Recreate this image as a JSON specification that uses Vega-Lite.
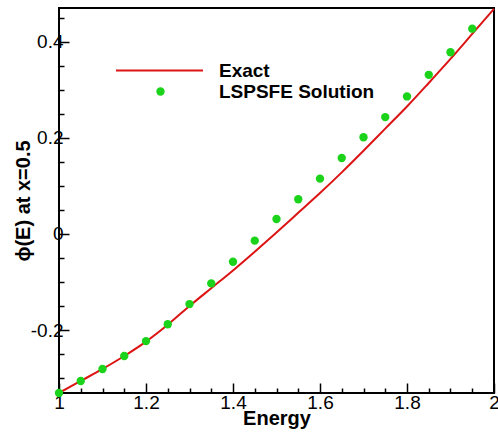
{
  "$schema": "https://vega.github.io/schema/vega-lite/v6.json",
  "width": 435,
  "height": 385,
  "autosize": "none",
  "padding": {"left": 59, "top": 8, "right": 4, "bottom": 43},
  "background": "white",
  "config": {
    "view": {"stroke": "black", "strokeWidth": 2},
    "font": "Liberation Sans",
    "axis": {
      "domain": false,
      "grid": false,
      "tickColor": "black",
      "tickWidth": 1.5,
      "labelFont": "Liberation Sans",
      "labelFontSize": 19,
      "labelColor": "black",
      "labelFlush": false,
      "labelOverlap": false,
      "labelBound": false,
      "titleFont": "Liberation Sans",
      "titleFontSize": 20,
      "titleFontWeight": "bold",
      "titleColor": "black"
    },
    "legend": {
      "labelFont": "Liberation Sans",
      "labelFontSize": 19,
      "labelFontWeight": "bold",
      "labelColor": "black",
      "padding": 0
    }
  },
  "resolve": {"axis": {"x": "independent", "y": "independent"}},
  "datasets": {
    "exact": [
      {"E": 1.00, "phi": -0.331, "series": "Exact"},
      {"E": 1.05, "phi": -0.306, "series": "Exact"},
      {"E": 1.10, "phi": -0.281, "series": "Exact"},
      {"E": 1.15, "phi": -0.254, "series": "Exact"},
      {"E": 1.20, "phi": -0.224, "series": "Exact"},
      {"E": 1.25, "phi": -0.189, "series": "Exact"},
      {"E": 1.30, "phi": -0.150, "series": "Exact"},
      {"E": 1.35, "phi": -0.113, "series": "Exact"},
      {"E": 1.40, "phi": -0.076, "series": "Exact"},
      {"E": 1.45, "phi": -0.037, "series": "Exact"},
      {"E": 1.50, "phi": 0.003, "series": "Exact"},
      {"E": 1.55, "phi": 0.044, "series": "Exact"},
      {"E": 1.60, "phi": 0.085, "series": "Exact"},
      {"E": 1.65, "phi": 0.128, "series": "Exact"},
      {"E": 1.70, "phi": 0.173, "series": "Exact"},
      {"E": 1.75, "phi": 0.219, "series": "Exact"},
      {"E": 1.80, "phi": 0.265, "series": "Exact"},
      {"E": 1.85, "phi": 0.314, "series": "Exact"},
      {"E": 1.90, "phi": 0.364, "series": "Exact"},
      {"E": 1.95, "phi": 0.416, "series": "Exact"},
      {"E": 2.00, "phi": 0.468, "series": "Exact"}
    ],
    "lspsfe": [
      {"E": 1.00, "phi": -0.331, "series": "LSPSFE Solution"},
      {"E": 1.05, "phi": -0.306, "series": "LSPSFE Solution"},
      {"E": 1.10, "phi": -0.281, "series": "LSPSFE Solution"},
      {"E": 1.15, "phi": -0.254, "series": "LSPSFE Solution"},
      {"E": 1.20, "phi": -0.223, "series": "LSPSFE Solution"},
      {"E": 1.25, "phi": -0.188, "series": "LSPSFE Solution"},
      {"E": 1.30, "phi": -0.146, "series": "LSPSFE Solution"},
      {"E": 1.35, "phi": -0.103, "series": "LSPSFE Solution"},
      {"E": 1.40, "phi": -0.058, "series": "LSPSFE Solution"},
      {"E": 1.45, "phi": -0.014, "series": "LSPSFE Solution"},
      {"E": 1.50, "phi": 0.031, "series": "LSPSFE Solution"},
      {"E": 1.55, "phi": 0.072, "series": "LSPSFE Solution"},
      {"E": 1.60, "phi": 0.115, "series": "LSPSFE Solution"},
      {"E": 1.65, "phi": 0.158, "series": "LSPSFE Solution"},
      {"E": 1.70, "phi": 0.201, "series": "LSPSFE Solution"},
      {"E": 1.75, "phi": 0.243, "series": "LSPSFE Solution"},
      {"E": 1.80, "phi": 0.286, "series": "LSPSFE Solution"},
      {"E": 1.85, "phi": 0.331, "series": "LSPSFE Solution"},
      {"E": 1.90, "phi": 0.378, "series": "LSPSFE Solution"},
      {"E": 1.95, "phi": 0.427, "series": "LSPSFE Solution"}
    ]
  },
  "layer": [
    {
      "data": {"name": "exact"},
      "mark": {"type": "line", "strokeWidth": 2, "interpolate": "monotone", "clip": false},
      "encoding": {
        "x": {
          "field": "E",
          "type": "quantitative",
          "scale": {"domain": [1, 2], "nice": false, "zero": false},
          "axis": {
            "orient": "bottom",
            "title": "Energy",
            "values": [1, 1.2, 1.4, 1.6, 1.8, 2],
            "tickSize": -10,
            "labelExpr": "'' + round(datum.value*10)/10",
            "labelPadding": 10,
            "titlePadding": -4
          }
        },
        "y": {
          "field": "phi",
          "type": "quantitative",
          "scale": {"domain": [-0.331, 0.47], "nice": false, "zero": false},
          "axis": {
            "orient": "left",
            "title": "ϕ(E) at x=0.5",
            "values": [-0.2, 0, 0.2, 0.4],
            "tickSize": -10,
            "labelExpr": "'' + round(datum.value*10)/10",
            "labelPadding": 6,
            "titlePadding": -3
          }
        },
        "stroke": {
          "field": "series",
          "type": "nominal",
          "scale": {"domain": ["Exact"], "range": ["#dc1414"]},
          "legend": {
            "title": null,
            "orient": "none",
            "legendX": 56,
            "legendY": 18,
            "symbolType": "stroke",
            "symbolSize": 7569,
            "symbolStrokeWidth": 2,
            "labelOffset": 15
          }
        }
      }
    },
    {
      "data": {"name": "lspsfe"},
      "mark": {"type": "point", "filled": true, "opacity": 1, "size": 70, "clip": false},
      "encoding": {
        "x": {
          "field": "E",
          "type": "quantitative",
          "axis": {
            "orient": "bottom",
            "title": null,
            "labels": false,
            "values": [1.05, 1.1, 1.15, 1.25, 1.3, 1.35, 1.45, 1.5, 1.55, 1.65, 1.7, 1.75, 1.85, 1.9, 1.95],
            "tickSize": -5
          }
        },
        "y": {
          "field": "phi",
          "type": "quantitative",
          "axis": {
            "orient": "left",
            "title": null,
            "labels": false,
            "values": [-0.3, -0.25, -0.15, -0.1, -0.05, 0.05, 0.1, 0.15, 0.25, 0.3, 0.35, 0.45],
            "tickSize": -5
          }
        },
        "fill": {
          "field": "series",
          "type": "nominal",
          "scale": {"domain": ["LSPSFE Solution"], "range": ["#1ad31a"]},
          "legend": {
            "title": null,
            "orient": "none",
            "legendX": 92,
            "legendY": 74,
            "symbolType": "circle",
            "symbolSize": 70,
            "symbolOpacity": 1,
            "symbolStrokeWidth": 0,
            "labelOffset": 49
          }
        }
      }
    }
  ]
}
